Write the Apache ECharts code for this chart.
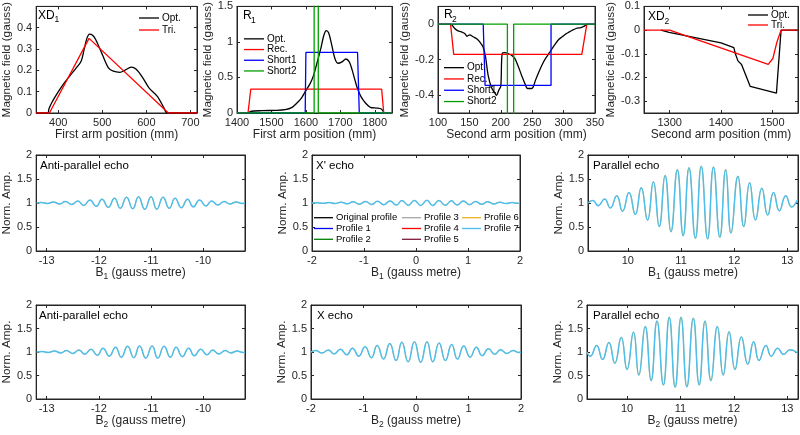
<!DOCTYPE html>
<html><head><meta charset="utf-8">
<script src="https://cdn.jsdelivr.net/npm/echarts@6/dist/echarts.min.js"></script>
<style>html,body{margin:0;padding:0;background:#fff}#c{width:800px;height:435px}</style>
</head><body><div id="c"></div><script>
// ---------- data ----------
const xd1Opt = [[350,0],[376,0],[379,0.02],[385,0.047],[396,0.086],[411,0.133],[426,0.173],[441,0.212],[452,0.243],[459,0.30],[465,0.35],[471,0.37],[478,0.365],[485,0.345],[500,0.275],[514,0.212],[525,0.196],[540,0.191],[551,0.2],[566,0.215],[577,0.205],[592,0.165],[606,0.118],[625,0.078],[640,0.024],[647,0],[715,0]];
const xd1Tri = [[350,0],[380,0],[470,0.35],[650,0],[715,0]];

const r1Opt = [[1435,0],[1439,0.023],[1473,0.033],[1511,0.037],[1540,0.047],[1560,0.08],[1574,0.14],[1587,0.21],[1598,0.30],[1613,0.42],[1623,0.54],[1632,0.70],[1642,0.88],[1652,1.09],[1659,1.16],[1666,1.13],[1674,0.98],[1684,0.77],[1693,0.70],[1705,0.72],[1716,0.76],[1726,0.72],[1734,0.61],[1742,0.47],[1750,0.34],[1760,0.23],[1773,0.14],[1787,0.08],[1806,0.07],[1819,0.056],[1826,0.01]];
const r1Rec = [[1400,0],[1432,0],[1440,0.335],[1820,0.335],[1826,0],[1850,0]];
const r1Short1 = [[1400,0],[1598,0],[1600,0.852],[1750,0.852],[1755,0],[1850,0]];
const r1Short2 = [[1400,0],[1624,0],[1624,2],[1636,2],[1636,0],[1850,0]];

const r2Opt = [[121.3,0],[126.6,-0.024],[131.9,-0.038],[137.2,-0.043],[142.6,-0.053],[146.3,-0.068],[150.5,-0.06],[155.9,-0.071],[161.2,-0.081],[166.5,-0.10],[171.8,-0.128],[175.5,-0.18],[179.8,-0.287],[185.1,-0.357],[190.4,-0.387],[193.1,-0.40],[196.8,-0.372],[200,-0.349],[202.1,-0.165],[206.4,-0.16],[211.7,-0.165],[217,-0.175],[222.3,-0.193],[227.7,-0.237],[233,-0.287],[238.3,-0.334],[242.6,-0.362],[248.9,-0.362],[251.6,-0.353],[255.3,-0.315],[260.6,-0.269],[266,-0.227],[271.3,-0.193],[276.6,-0.165],[281.9,-0.137],[287.2,-0.109],[292.6,-0.085],[297.9,-0.071],[303.2,-0.056],[308.5,-0.045],[313.8,-0.034],[320.7,-0.023],[327.7,-0.019],[333,-0.011],[336.7,0]];
const r2Rec = [[100,0],[120,0],[125,-0.17],[329,-0.17],[337,0],[350,0]];
const r2Short1 = [[100,0],[172,0],[175,-0.345],[280,-0.345],[280,0],[350,0]];
const r2Short2 = [[100,0],[210.5,0],[210.5,-1],[220.5,-1],[220.5,0],[350,0]];

const xd2Opt = [[1283,0],[1299,-0.01],[1400,-0.054],[1425,-0.074],[1428,-0.1],[1433,-0.13],[1440,-0.145],[1457,-0.238],[1508,-0.266],[1517,0],[1550,0]];
const xd2Tri = [[1250,0],[1300,0],[1492,-0.145],[1501,-0.12],[1509,-0.05],[1517,0],[1550,0]];

// echo curves: extrema [B, amplitude]
const antiB1 = [[-13.19,1.00],[-13.10,1.01],[-12.98,0.99],[-12.87,1.02],[-12.75,0.98],[-12.64,1.03],[-12.52,0.97],[-12.40,1.04],[-12.29,0.95],[-12.17,1.06],[-12.05,0.93],[-11.94,1.08],[-11.82,0.91],[-11.70,1.10],[-11.59,0.89],[-11.47,1.12],[-11.35,0.88],[-11.24,1.13],[-11.12,0.87],[-11.00,1.13],[-10.89,0.87],[-10.77,1.12],[-10.65,0.89],[-10.54,1.10],[-10.42,0.90],[-10.30,1.08],[-10.19,0.92],[-10.07,1.06],[-9.95,0.94],[-9.84,1.04],[-9.72,0.96],[-9.60,1.03],[-9.49,0.98],[-9.37,1.02],[-9.25,0.99],[-9.20,1.00]];
const xpB1 = [[-2.00,1.00],[-1.91,1.007],[-1.79,0.993],[-1.67,1.01],[-1.56,0.99],[-1.44,1.016],[-1.32,0.984],[-1.21,1.024],[-1.09,0.976],[-0.97,1.03],[-0.85,0.97],[-0.74,1.036],[-0.62,0.964],[-0.50,1.044],[-0.38,0.958],[-0.27,1.05],[-0.15,0.952],[-0.03,1.054],[0.09,0.948],[0.21,1.055],[0.32,0.948],[0.44,1.052],[0.56,0.952],[0.68,1.046],[0.79,0.958],[0.91,1.04],[1.03,0.965],[1.15,1.032],[1.26,0.972],[1.38,1.024],[1.50,0.98],[1.61,1.016],[1.73,0.988],[1.85,1.009],[1.96,0.995],[2.00,1.00]];
const parB1 = [[9.25,1.00],[9.34,1.054],[9.44,0.945],[9.56,1.081],[9.67,0.897],[9.79,1.149],[9.90,0.829],[10.02,1.217],[10.14,0.761],[10.25,1.319],[10.37,0.646],[10.48,1.441],[10.59,0.510],[10.70,1.571],[10.81,0.401],[10.93,1.693],[11.04,0.319],[11.15,1.734],[11.27,0.265],[11.38,1.768],[11.50,0.251],[11.61,1.748],[11.73,0.285],[11.84,1.693],[11.94,0.374],[12.07,1.557],[12.18,0.510],[12.29,1.421],[12.40,0.646],[12.52,1.306],[12.63,0.748],[12.74,1.217],[12.85,0.836],[12.97,1.149],[13.08,0.918],[13.19,1.068]];
const antiB2 = [[-13.19,1.00],[-13.08,1.01],[-12.97,0.99],[-12.85,1.02],[-12.73,0.98],[-12.62,1.03],[-12.50,0.97],[-12.38,1.04],[-12.27,0.95],[-12.15,1.06],[-12.03,0.93],[-11.92,1.08],[-11.80,0.91],[-11.68,1.10],[-11.57,0.89],[-11.45,1.12],[-11.33,0.88],[-11.22,1.13],[-11.10,0.87],[-10.98,1.13],[-10.87,0.87],[-10.75,1.12],[-10.63,0.89],[-10.52,1.10],[-10.40,0.90],[-10.28,1.08],[-10.17,0.92],[-10.05,1.06],[-9.93,0.94],[-9.82,1.04],[-9.70,0.96],[-9.58,1.03],[-9.47,0.98],[-9.35,1.02],[-9.24,0.99],[-9.20,1.00]];
const xB2 = [[-2.00,1.00],[-1.91,1.03],[-1.79,0.98],[-1.67,1.04],[-1.56,0.96],[-1.44,1.06],[-1.32,0.94],[-1.21,1.08],[-1.09,0.91],[-0.97,1.11],[-0.85,0.88],[-0.74,1.14],[-0.62,0.85],[-0.50,1.18],[-0.38,0.82],[-0.27,1.21],[-0.15,0.79],[-0.03,1.22],[0.09,0.78],[0.21,1.22],[0.32,0.79],[0.44,1.19],[0.56,0.82],[0.68,1.16],[0.79,0.85],[0.91,1.13],[1.03,0.89],[1.15,1.10],[1.26,0.92],[1.38,1.07],[1.50,0.95],[1.61,1.05],[1.73,0.97],[1.85,1.03],[1.96,0.99],[2.00,1.00]];
const parB2 = [[9.25,1.00],[9.31,0.91],[9.43,1.14],[9.54,0.84],[9.66,1.20],[9.77,0.76],[9.89,1.31],[10.00,0.63],[10.12,1.42],[10.22,0.51],[10.34,1.54],[10.45,0.39],[10.56,1.66],[10.68,0.30],[10.79,1.74],[10.90,0.25],[11.01,1.74],[11.12,0.26],[11.24,1.72],[11.35,0.30],[11.46,1.66],[11.57,0.39],[11.69,1.54],[11.80,0.51],[11.91,1.43],[12.02,0.63],[12.14,1.32],[12.26,0.74],[12.37,1.22],[12.47,0.82],[12.60,1.14],[12.70,0.91],[12.82,1.08],[12.93,0.95],[13.05,1.05],[13.19,0.98]];

// tick values
const xd1XTicks = [400,500,600,700], xd1YTicks = [0,0.1,0.2,0.3,0.4];
const r1XTicks = [1400,1500,1600,1700,1800], r1YTicks = [0,0.5,1,1.5];
const r2XTicks = [100,150,200,250,300,350], r2YTicks = [-0.4,-0.2,0];
const xd2XTicks = [1300,1400,1500], xd2YTicks = [-0.3,-0.2,-0.1,0,0.1];
const antiXTicks = [-13,-12,-11,-10], xXTicks = [-2,-1,0,1,2], parXTicks = [10,11,12,13];
const ampYTicks = [0,0.5,1,1.5,2];
const profileNames = ['Original profile','Profile 1','Profile 2','Profile 3','Profile 4','Profile 5','Profile 6','Profile 7'];

// ---------- styling & layout ----------
const F = '"Liberation Sans", Arial, Helvetica, sans-serif';
const AX = '#262626';
const C = {opt:'#000000', red:'#ff0000', blue:'#0000ff', green:'#00a000'};
const profColors = ['#000000','#0000ff','#008000','#a6a6a6','#ff0000','#7e1a3c','#edb120','#4dbeee'];
const grids = [
  {left:33, top:6, width:164, height:107},
  {left:237, top:6, width:155, height:107},
  {left:438, top:6, width:157, height:107},
  {left:644, top:6, width:154, height:107},
  {left:35, top:155, width:210, height:96},
  {left:312, top:155, width:208, height:96},
  {left:588, top:155, width:210, height:96},
  {left:34, top:305, width:211, height:94},
  {left:311, top:305, width:210, height:94},
  {left:587, top:305, width:211, height:94}
];
const subRich = {
  a:{fontFamily:F, fontSize:12, color:AX, lineHeight:14, verticalAlign:'top'},
  s:{fontFamily:F, fontSize:8.5, color:AX, lineHeight:6, verticalAlign:'bottom'}
};
const option = {animation:false, backgroundColor:'#fff', grid:[], xAxis:[], yAxis:[], series:[], legend:[], graphic:[]};
const N = grids.length;
grids.forEach(g => option.grid.push(Object.assign({show:true, borderColor:AX, borderWidth:1, backgroundColor:'#fff'}, g)));
const fmt = v => String(v);

function addPanel(i, xr, xt, yr, yt, xname, xgap, yname, ygap) {
  const tick = (vals) => ({show:true, inside:true, length:3, lineStyle:{color:AX}, customValues:vals});
  option.xAxis[i] = {type:'value', gridIndex:i, min:xr[0], max:xr[1], axisLine:{show:true, onZero:false, lineStyle:{color:AX}},
    axisTick:tick(xt), axisLabel:{customValues:xt, formatter:fmt, color:AX, fontFamily:F, fontSize:11, margin:4},
    splitLine:{show:false}, name:xname, nameLocation:'middle', nameGap:xgap,
    nameTextStyle:{color:AX, fontFamily:F, fontSize:12, rich:subRich}};
  option.xAxis[i+N] = {type:'value', gridIndex:i, position:'top', min:xr[0], max:xr[1], axisLine:{show:true, onZero:false, lineStyle:{color:AX}},
    axisTick:tick(xt), axisLabel:{show:false}, splitLine:{show:false}};
  option.yAxis[i] = {type:'value', gridIndex:i, min:yr[0], max:yr[1], axisLine:{show:true, onZero:false, lineStyle:{color:AX}},
    axisTick:tick(yt), axisLabel:{customValues:yt, formatter:fmt, color:AX, fontFamily:F, fontSize:11, margin:4},
    splitLine:{show:false}, name:yname, nameLocation:'middle', nameGap:ygap,
    nameTextStyle:{color:AX, fontFamily:F, fontSize:11.8}};
  option.yAxis[i+N] = {type:'value', gridIndex:i, position:'right', min:yr[0], max:yr[1], axisLine:{show:true, onZero:false, lineStyle:{color:AX}},
    axisTick:tick(yt), axisLabel:{show:false}, splitLine:{show:false}};
}
function addLine(i, name, data, color, width, smooth, z, opacity) {
  option.series.push({type:'line', name:name, xAxisIndex:i, yAxisIndex:i, data:data, symbol:'none', smooth:smooth||false,
    lineStyle:{color:color, width:width, opacity:(opacity===undefined?1:opacity)}, itemStyle:{color:color, borderWidth:0}, z:z||2, clip:true, silent:true});
}
function addText(x, y, txt, size) {
  option.graphic.push({type:'text', left:x, top:y, z:100, style:{text:txt, fill:'#000', font:'normal ' + size + 'px ' + F}});
}
function addLegend(x, y, names, h, fs, w) {
  option.legend.push({data:names, left:x, top:y, orient:'vertical', icon:'rect', itemWidth:w||20, itemHeight:1.3, itemGap:0, padding:0,
    selectedMode:false, itemStyle:{borderWidth:0}, lineStyle:{width:0},
    textStyle:{fontFamily:F, fontSize:fs, color:'#000', lineHeight:h, padding:[0,0,0,-2]}});
}

const magName = 'Magnetic field (gauss)';
addPanel(0, [350,715], xd1XTicks, [0,0.5], xd1YTicks, 'First arm position (mm)', 13, magName, 20);
addPanel(1, [1400,1850], r1XTicks, [0,1.5], r1YTicks, 'First arm position (mm)', 13, magName, 23);
addPanel(2, [100,350], r2XTicks, [-0.5,0.1], r2YTicks, 'Second arm position (mm)', 13, magName, 19);
addPanel(3, [1250,1550], xd2XTicks, [-0.35,0.1], xd2YTicks, 'Second arm position (mm)', 13, magName, 24);
addPanel(4, [-13.2,-9.2], antiXTicks, [0,2], ampYTicks, '{a|B}{s|1}{a| (gauss metre)}', 16, 'Norm. Amp.', 19);
addPanel(5, [-2,2], xXTicks, [0,2], ampYTicks, '{a|B}{s|1}{a| (gauss metre)}', 16, 'Norm. Amp.', 22);
addPanel(6, [9.25,13.2], parXTicks, [0,2], ampYTicks, '{a|B}{s|1}{a| (gauss metre)}', 16, 'Norm. Amp.', 22);
addPanel(7, [-13.2,-9.2], antiXTicks, [0,2], ampYTicks, '{a|B}{s|2}{a| (gauss metre)}', 16, 'Norm. Amp.', 20);
addPanel(8, [-2,2], xXTicks, [0,2], ampYTicks, '{a|B}{s|2}{a| (gauss metre)}', 16, 'Norm. Amp.', 21);
addPanel(9, [9.25,13.2], parXTicks, [0,2], ampYTicks, '{a|B}{s|2}{a| (gauss metre)}', 16, 'Norm. Amp.', 21);

addLine(0, 'Opt.', xd1Opt, C.opt, 1.3, 0.3);
addLine(0, 'Tri.', xd1Tri, C.red, 1.3);
addLine(1, 'Opt.', r1Opt, C.opt, 1.3, 0.3);
addLine(1, 'Rec.', r1Rec, C.red, 1.3);
addLine(1, 'Short1', r1Short1, C.blue, 1.3);
addLine(1, 'Short2', r1Short2, C.green, 1.3);
addLine(2, 'Opt.', r2Opt, C.opt, 1.3, 0.3);
addLine(2, 'Rec.', r2Rec, C.red, 1.3);
addLine(2, 'Short1', r2Short1, C.blue, 1.3);
addLine(2, 'Short2', r2Short2, C.green, 1.3);
addLine(3, 'Opt.', xd2Opt, C.opt, 1.3);
addLine(3, 'Tri.', xd2Tri, C.red, 1.3);

// the profiles coincide; only the last two drawn are visible in the reference
const echoSets = [antiB1, xpB1, parB1, antiB2, xB2, parB2];
echoSets.forEach((d, k) => {
  profileNames.forEach((n, p) => addLine(4 + k, n, d, profColors[p], p === 7 ? 1.5 : 0.9, 0.5, 2 + p, p >= 6 ? 1 : 0));
});

// panel labels (subscripts placed as separate smaller text)
addText(38, 9.5, 'XD', 12); addText(54.5, 15.5, '1', 8.5);
addText(243, 10, 'R', 12); addText(251, 16.5, '1', 8.5);
addText(444, 8.5, 'R', 12); addText(452, 15, '2', 8.5);
addText(648, 11, 'XD', 12); addText(664.5, 17.5, '2', 8.5);
addText(40, 159.5, 'Anti-parallel echo', 11.5);
addText(316, 159.5, "X' echo", 11.5);
addText(593, 159.5, 'Parallel echo', 11.5);
addText(39, 309.5, 'Anti-parallel echo', 11.5);
addText(317, 309.5, 'X echo', 11.5);
addText(593, 309.5, 'Parallel echo', 11.5);

addLegend(139, 12, ['Opt.','Tri.'], 12, 10);
addLegend(244, 33.5, ['Opt.','Rec.','Short1','Short2'], 10.7, 10);
addLegend(444, 62, ['Opt.','Rec.','Short1','Short2'], 11.3, 10);
addLegend(748, 10, ['Opt.','Tri.'], 10, 10);
addLegend(314, 212.3, ['Original profile','Profile 1','Profile 2'], 10.8, 9.5, 19);
addLegend(402, 212.3, ['Profile 3','Profile 4','Profile 5'], 10.8, 9.5, 19);
addLegend(462, 212.3, ['Profile 6','Profile 7'], 10.8, 9.5, 19);

const chart = echarts.init(document.getElementById('c'), null, {renderer:'canvas'});
chart.setOption(option);
</script></body></html>
